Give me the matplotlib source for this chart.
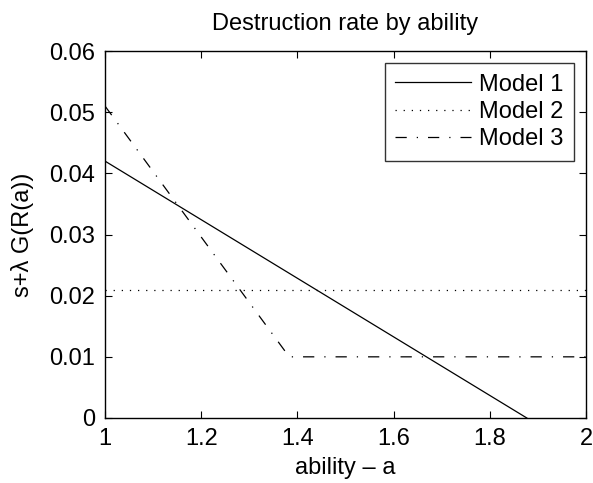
import matplotlib
matplotlib.use("Agg")
import matplotlib.pyplot as plt

plt.rcParams["font.family"] = ["Liberation Sans", "DejaVu Sans"]

# valores
model1_x = [1.0, 1.877]
model1_y = [0.042, 0.0]
model2_x = [1.0, 2.0]
model2_y = [0.021, 0.021]
model3_x = [1.0, 1.383, 2.0]
model3_y = [0.051, 0.010, 0.010]
labels = ["Model 1", "Model 2", "Model 3"]

xticks = [1, 1.2, 1.4, 1.6, 1.8, 2]
xticklabels = ["1", "1.2", "1.4", "1.6", "1.8", "2"]
yticks = [0, 0.01, 0.02, 0.03, 0.04, 0.05, 0.06]
yticklabels = ["0", "0.01", "0.02", "0.03", "0.04", "0.05", "0.06"]

FS = 17

fig = plt.figure(figsize=(5.93, 4.83), dpi=100)
ax = fig.add_axes([105 / 593, 1 - 418 / 483, 481 / 593, 367 / 483])

ax.plot(model1_x, model1_y, color="black", lw=0.9, label=labels[0])
ax.plot(model2_x, model2_y, color="black", lw=0.9, linestyle=(0, (1, 5.5)), label=labels[1])
ax.plot(model3_x, model3_y, color="black", lw=0.9, linestyle=(0, (9, 8, 1, 8)), label=labels[2])

ax.set_xlim(1, 2)
ax.set_ylim(0, 0.06)
ax.set_xticks(xticks)
ax.set_xticklabels(xticklabels)
ax.set_yticks(yticks)
ax.set_yticklabels(yticklabels)
ax.tick_params(direction="in", top=True, right=True, length=5, labelsize=FS, pad=7)
for s in ax.spines.values():
    s.set_linewidth(1.0)

ax.set_title("Destruction rate by ability", fontsize=FS, pad=15)
ax.set_xlabel("ability \u2013 a", fontsize=FS, labelpad=5)
ax.set_ylabel("s+\u03bb G(R(a))", fontsize=FS, labelpad=11)

leg = ax.legend(loc="upper right", bbox_to_anchor=(0.975, 0.967), fontsize=FS,
                frameon=True, fancybox=False, edgecolor="black", handlelength=3.2,
                handletextpad=0.35, labelspacing=0.22, borderpad=0.45, borderaxespad=0)
leg.get_frame().set_linewidth(1.0)

fig.savefig("out.png", dpi=100)
